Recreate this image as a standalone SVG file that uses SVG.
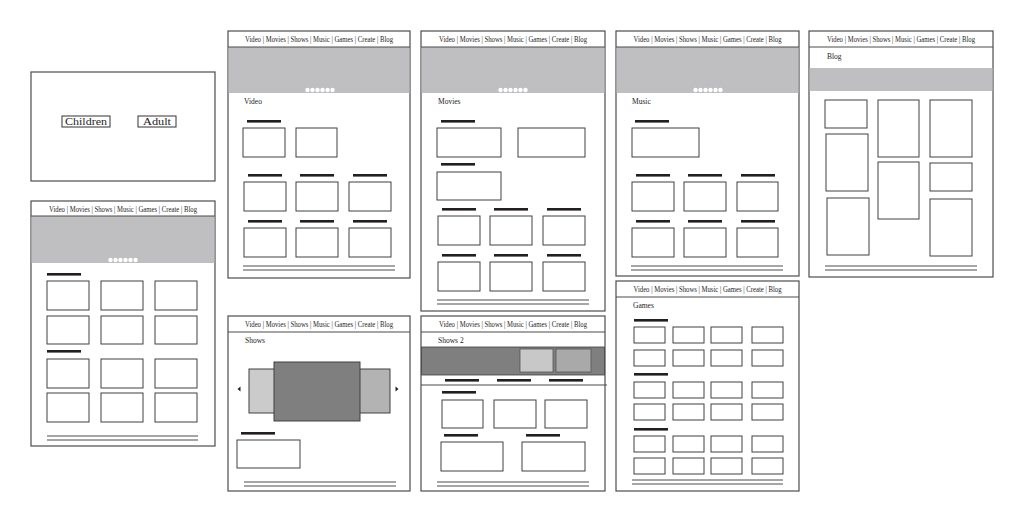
<svg xmlns="http://www.w3.org/2000/svg" width="1024" height="522" viewBox="0 0 1024 522">
<style>
.frame{fill:#fff;stroke:#4d4d4d;stroke-width:1.2}
.box{fill:#fff;stroke:#404040;stroke-width:1}
.bar{fill:#231f20}
.banner{fill:#bfbfc1}
.navline{stroke:#4d4d4d;stroke-width:1.2}
.foot{stroke:#4d4d4d;stroke-width:1}
.nav{font-family:"Liberation Serif",serif;font-size:8.5px;fill:#1e1e1e;text-anchor:middle}
.lbl{font-family:"Liberation Serif",serif;font-size:7.5px;fill:#222}
.dot{fill:#fff}
.btn{fill:#fff;stroke:#333;stroke-width:1}
.btntxt{font-family:"Liberation Serif",serif;font-size:10.5px;fill:#222;text-anchor:middle}
</style>
<rect width="1024" height="522" fill="#fff"/>

<g id="landing">
<rect class="frame" x="31" y="72" width="184" height="109"/>
<rect class="btn" x="62" y="116" width="48" height="11"/>
<text class="btntxt" x="86" y="125" textLength="42" lengthAdjust="spacingAndGlyphs">Children</text>
<rect class="btn" x="138" y="116" width="38" height="11"/>
<text class="btntxt" x="157" y="125" textLength="28" lengthAdjust="spacingAndGlyphs">Adult</text>
</g>

<g id="home">
<rect class="frame" x="31" y="201" width="184" height="245"/>
<text class="nav" x="123" y="212" textLength="148" lengthAdjust="spacingAndGlyphs">Video | Movies | Shows | Music | Games | Create | Blog</text>
<rect class="banner" x="31.6" y="216" width="182.8" height="47"/>
<line class="navline" x1="31" y1="216" x2="215" y2="216"/>
<g class="dot"><circle cx="110.5" cy="260" r="2.2"/><circle cx="115.5" cy="260" r="2.2"/><circle cx="120.5" cy="260" r="2.2"/><circle cx="125.5" cy="260" r="2.2"/><circle cx="130.5" cy="260" r="2.2"/><circle cx="135.5" cy="260" r="2.2"/></g>
<rect class="bar" x="47" y="273" width="34" height="2.6"/>
<rect class="box" x="47" y="281" width="42" height="29"/>
<rect class="box" x="101" y="281" width="42" height="29"/>
<rect class="box" x="155" y="281" width="42" height="29"/>
<rect class="box" x="47" y="316" width="42" height="28"/>
<rect class="box" x="101" y="316" width="42" height="28"/>
<rect class="box" x="155" y="316" width="42" height="28"/>
<rect class="bar" x="47" y="350" width="34" height="2.6"/>
<rect class="box" x="47" y="359" width="42" height="29"/>
<rect class="box" x="101" y="359" width="42" height="29"/>
<rect class="box" x="155" y="359" width="42" height="29"/>
<rect class="box" x="47" y="393" width="42" height="29"/>
<rect class="box" x="101" y="393" width="42" height="29"/>
<rect class="box" x="155" y="393" width="42" height="29"/>
<line class="foot" x1="47" y1="436" x2="198" y2="436"/>
<line class="foot" x1="47" y1="440" x2="198" y2="440"/>
</g>

<g id="video">
<rect class="frame" x="228" y="31" width="182" height="247"/>
<text class="nav" x="319" y="42" textLength="148" lengthAdjust="spacingAndGlyphs">Video | Movies | Shows | Music | Games | Create | Blog</text>
<rect class="banner" x="228.6" y="47" width="180.8" height="46"/>
<line class="navline" x1="228" y1="47" x2="410" y2="47"/>
<g class="dot"><circle cx="307.5" cy="90" r="2.2"/><circle cx="312.5" cy="90" r="2.2"/><circle cx="317.5" cy="90" r="2.2"/><circle cx="322.5" cy="90" r="2.2"/><circle cx="327.5" cy="90" r="2.2"/><circle cx="332.5" cy="90" r="2.2"/></g>
<text class="lbl" x="244" y="104">Video</text>
<rect class="bar" x="247" y="120" width="34" height="2.6"/>
<rect class="box" x="243" y="128" width="42" height="29"/>
<rect class="box" x="296" y="128" width="41" height="29"/>
<rect class="bar" x="248" y="174" width="34" height="2.6"/>
<rect class="bar" x="300" y="174" width="34" height="2.6"/>
<rect class="bar" x="353" y="174" width="34" height="2.6"/>
<rect class="box" x="244" y="182" width="42" height="29"/>
<rect class="box" x="296" y="182" width="42" height="29"/>
<rect class="box" x="349" y="182" width="42" height="29"/>
<rect class="bar" x="248" y="220" width="34" height="2.6"/>
<rect class="bar" x="300" y="220" width="34" height="2.6"/>
<rect class="bar" x="353" y="220" width="34" height="2.6"/>
<rect class="box" x="244" y="228" width="42" height="29"/>
<rect class="box" x="296" y="228" width="42" height="29"/>
<rect class="box" x="349" y="228" width="42" height="29"/>
<line class="foot" x1="243" y1="266" x2="395" y2="266"/>
<line class="foot" x1="243" y1="270" x2="395" y2="270"/>
</g>

<g id="movies">
<rect class="frame" x="421" y="31" width="184" height="280"/>
<text class="nav" x="513" y="42" textLength="148" lengthAdjust="spacingAndGlyphs">Video | Movies | Shows | Music | Games | Create | Blog</text>
<rect class="banner" x="421.6" y="47" width="182.8" height="46"/>
<line class="navline" x1="421" y1="47" x2="605" y2="47"/>
<g class="dot"><circle cx="500.5" cy="90" r="2.2"/><circle cx="505.5" cy="90" r="2.2"/><circle cx="510.5" cy="90" r="2.2"/><circle cx="515.5" cy="90" r="2.2"/><circle cx="520.5" cy="90" r="2.2"/><circle cx="525.5" cy="90" r="2.2"/></g>
<text class="lbl" x="438" y="104">Movies</text>
<rect class="bar" x="441" y="120" width="34" height="2.6"/>
<rect class="box" x="437" y="128" width="64" height="29"/>
<rect class="box" x="518" y="128" width="67" height="29"/>
<rect class="bar" x="441" y="163" width="34" height="2.6"/>
<rect class="box" x="437" y="172" width="64" height="28"/>
<rect class="bar" x="442" y="208" width="34" height="2.6"/>
<rect class="bar" x="494" y="208" width="34" height="2.6"/>
<rect class="bar" x="547" y="208" width="34" height="2.6"/>
<rect class="box" x="438" y="216" width="42" height="29"/>
<rect class="box" x="490" y="216" width="42" height="29"/>
<rect class="box" x="543" y="216" width="42" height="29"/>
<rect class="bar" x="442" y="254" width="34" height="2.6"/>
<rect class="bar" x="494" y="254" width="34" height="2.6"/>
<rect class="bar" x="547" y="254" width="34" height="2.6"/>
<rect class="box" x="438" y="262" width="42" height="29"/>
<rect class="box" x="490" y="262" width="42" height="29"/>
<rect class="box" x="543" y="262" width="42" height="29"/>
<line class="foot" x1="437" y1="300" x2="589" y2="300"/>
<line class="foot" x1="437" y1="304" x2="589" y2="304"/>
</g>

<g id="music">
<rect class="frame" x="616" y="31" width="183" height="245"/>
<text class="nav" x="707.5" y="42" textLength="148" lengthAdjust="spacingAndGlyphs">Video | Movies | Shows | Music | Games | Create | Blog</text>
<rect class="banner" x="616.6" y="47" width="181.8" height="46"/>
<line class="navline" x1="616" y1="47" x2="799" y2="47"/>
<g class="dot"><circle cx="695.5" cy="90" r="2.2"/><circle cx="700.5" cy="90" r="2.2"/><circle cx="705.5" cy="90" r="2.2"/><circle cx="710.5" cy="90" r="2.2"/><circle cx="715.5" cy="90" r="2.2"/><circle cx="720.5" cy="90" r="2.2"/></g>
<text class="lbl" x="632" y="104">Music</text>
<rect class="bar" x="635" y="120" width="34" height="2.6"/>
<rect class="box" x="632" y="128" width="67" height="29"/>
<rect class="bar" x="636" y="174" width="34" height="2.6"/>
<rect class="bar" x="688" y="174" width="34" height="2.6"/>
<rect class="bar" x="741" y="174" width="34" height="2.6"/>
<rect class="box" x="632" y="182" width="42" height="29"/>
<rect class="box" x="684" y="182" width="42" height="29"/>
<rect class="box" x="737" y="182" width="41" height="29"/>
<rect class="bar" x="636" y="220" width="34" height="2.6"/>
<rect class="bar" x="688" y="220" width="34" height="2.6"/>
<rect class="bar" x="741" y="220" width="34" height="2.6"/>
<rect class="box" x="632" y="228" width="42" height="29"/>
<rect class="box" x="684" y="228" width="42" height="29"/>
<rect class="box" x="737" y="228" width="41" height="29"/>
<line class="foot" x1="631" y1="266" x2="783" y2="266"/>
<line class="foot" x1="631" y1="270" x2="783" y2="270"/>
</g>

<g id="blog">
<rect class="frame" x="809" y="31" width="184" height="246"/>
<text class="nav" x="901" y="42" textLength="148" lengthAdjust="spacingAndGlyphs">Video | Movies | Shows | Music | Games | Create | Blog</text>
<line class="navline" x1="809" y1="47" x2="993" y2="47"/>
<text class="lbl" x="827" y="59">Blog</text>
<rect class="banner" x="809.6" y="68" width="182.8" height="23"/>
<rect class="box" x="825" y="100" width="42" height="28"/>
<rect class="box" x="826" y="134" width="42" height="57"/>
<rect class="box" x="827" y="198" width="42" height="57"/>
<rect class="box" x="878" y="100" width="41" height="57"/>
<rect class="box" x="878" y="162" width="41" height="57"/>
<rect class="box" x="930" y="100" width="42" height="57"/>
<rect class="box" x="930" y="163" width="42" height="28"/>
<rect class="box" x="930" y="199" width="42" height="57"/>
<line class="foot" x1="825" y1="266" x2="977" y2="266"/>
<line class="foot" x1="825" y1="270" x2="977" y2="270"/>
</g>

<g id="shows">
<rect class="frame" x="228" y="316" width="182" height="175"/>
<text class="nav" x="319" y="327" textLength="148" lengthAdjust="spacingAndGlyphs">Video | Movies | Shows | Music | Games | Create | Blog</text>
<line class="navline" x1="228" y1="332" x2="410" y2="332"/>
<text class="lbl" x="245" y="343">Shows</text>
<rect x="249" y="369" width="30" height="44" fill="#cbcbcb" stroke="#404040" stroke-width="1"/>
<rect x="355" y="369" width="35" height="44" fill="#b3b3b3" stroke="#404040" stroke-width="1"/>
<rect x="274" y="362" width="86" height="59" fill="#7f7f7f" stroke="#404040" stroke-width="1"/>
<path d="M237.5 389 L240.5 386.5 L240.5 391.5 Z" fill="#222"/>
<path d="M398.5 389 L395.5 386.5 L395.5 391.5 Z" fill="#222"/>
<rect class="bar" x="241" y="432" width="34" height="2.6"/>
<rect class="box" x="237" y="440" width="63" height="28"/>
<line class="foot" x1="244" y1="482" x2="396" y2="482"/>
<line class="foot" x1="244" y1="486" x2="396" y2="486"/>
</g>

<g id="shows2">
<rect class="frame" x="421" y="316" width="184" height="175"/>
<text class="nav" x="513" y="327" textLength="148" lengthAdjust="spacingAndGlyphs">Video | Movies | Shows | Music | Games | Create | Blog</text>
<line class="navline" x1="421" y1="332" x2="605" y2="332"/>
<text class="lbl" x="438" y="343">Shows 2</text>
<rect x="421.6" y="347" width="182.8" height="28" fill="#7f7f7f" stroke="#404040" stroke-width="0.8"/>
<rect x="520" y="349" width="33" height="23" fill="#c8c8c8" stroke="#555" stroke-width="0.8"/>
<rect x="556" y="349" width="35" height="23" fill="#a9a9a9" stroke="#555" stroke-width="0.8"/>
<rect class="bar" x="445" y="379" width="34" height="2.6"/>
<rect class="bar" x="497" y="379" width="34" height="2.6"/>
<rect class="bar" x="549" y="379" width="34" height="2.6"/>
<line class="navline" x1="421" y1="385" x2="607" y2="385"/>
<rect class="bar" x="442" y="391" width="34" height="2.6"/>
<rect class="box" x="442" y="400" width="41" height="28"/>
<rect class="box" x="494" y="400" width="42" height="28"/>
<rect class="box" x="545" y="400" width="42" height="28"/>
<rect class="bar" x="444" y="434" width="34" height="2.6"/>
<rect class="bar" x="526" y="434" width="34" height="2.6"/>
<rect class="box" x="441" y="442" width="62" height="29"/>
<rect class="box" x="522" y="442" width="63" height="29"/>
<line class="foot" x1="437" y1="482" x2="589" y2="482"/>
<line class="foot" x1="437" y1="486" x2="589" y2="486"/>
</g>

<g id="games">
<rect class="frame" x="616" y="281" width="183" height="210"/>
<text class="nav" x="707.5" y="292" textLength="148" lengthAdjust="spacingAndGlyphs">Video | Movies | Shows | Music | Games | Create | Blog</text>
<line class="navline" x1="616" y1="297" x2="799" y2="297"/>
<text class="lbl" x="633" y="308">Games</text>
<rect class="bar" x="634" y="319" width="34" height="2.6"/>
<rect class="box" x="634" y="327" width="31" height="16"/><rect class="box" x="673" y="327" width="31" height="16"/><rect class="box" x="711" y="327" width="31" height="16"/><rect class="box" x="752" y="327" width="31" height="16"/>
<rect class="box" x="634" y="350" width="31" height="16"/><rect class="box" x="673" y="350" width="31" height="16"/><rect class="box" x="711" y="350" width="31" height="16"/><rect class="box" x="752" y="350" width="31" height="16"/>
<rect class="bar" x="634" y="373" width="34" height="2.6"/>
<rect class="box" x="634" y="382" width="31" height="16"/><rect class="box" x="673" y="382" width="31" height="16"/><rect class="box" x="711" y="382" width="31" height="16"/><rect class="box" x="752" y="382" width="31" height="16"/>
<rect class="box" x="634" y="404" width="31" height="16"/><rect class="box" x="673" y="404" width="31" height="16"/><rect class="box" x="711" y="404" width="31" height="16"/><rect class="box" x="752" y="404" width="31" height="16"/>
<rect class="bar" x="634" y="428" width="34" height="2.6"/>
<rect class="box" x="634" y="436" width="31" height="16"/><rect class="box" x="673" y="436" width="31" height="16"/><rect class="box" x="711" y="436" width="31" height="16"/><rect class="box" x="752" y="436" width="31" height="16"/>
<rect class="box" x="634" y="458" width="31" height="16"/><rect class="box" x="673" y="458" width="31" height="16"/><rect class="box" x="711" y="458" width="31" height="16"/><rect class="box" x="752" y="458" width="31" height="16"/>
<line class="foot" x1="632" y1="480" x2="783" y2="480"/>
<line class="foot" x1="632" y1="484" x2="783" y2="484"/>
</g>
</svg>
